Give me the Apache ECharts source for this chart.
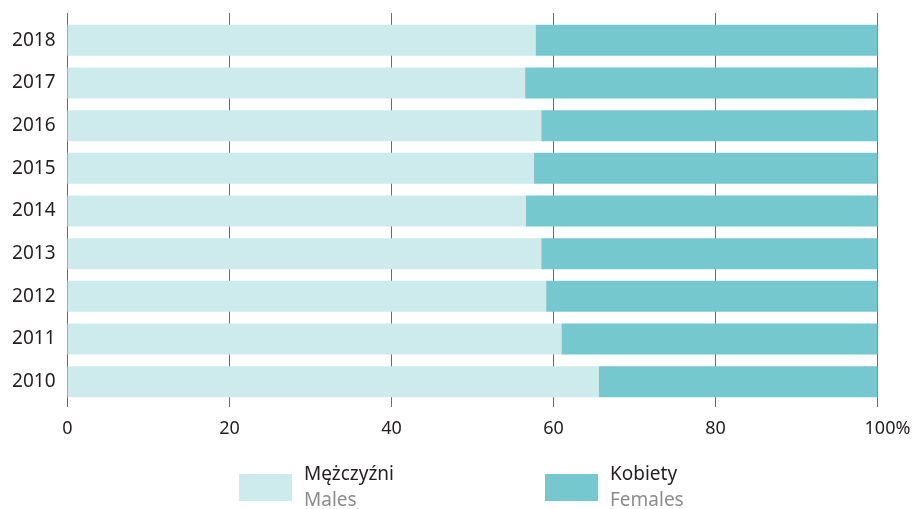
<!DOCTYPE html>
<html>
<head>
<meta charset="utf-8">
<script src="https://cdn.jsdelivr.net/npm/echarts@6/dist/echarts.min.js"></script>
<style>
  html, body { margin: 0; padding: 0; background: #fff; }
  #chart { width: 914px; height: 509px; }
</style>
</head>
<body>
<div id="chart"></div>
<script>
  // 数据（从下到上）
  const years = ['2010', '2011', '2012', '2013', '2014', '2015', '2016', '2017', '2018']
  const males = [65.6, 61.0, 59.1, 58.5, 56.6, 57.6, 58.5, 56.5, 57.8]
  const females = males.map(v => +(100 - v).toFixed(1))
  const xTicks = [0, 20, 40, 60, 80, 100]

  const FONT = '"Noto Sans", sans-serif'
  const LIGHT = '#cdebec'
  const DARK = '#74c8ce'

  const chart = echarts.init(document.getElementById('chart'))

  const legendItem = (name, en, left) => ({
    data: [name],
    left: left,
    top: 465,
    padding: 0,
    itemWidth: 53,
    itemHeight: 27,
    icon: 'rect',
    selectedMode: false,
    formatter: n => '{a|' + n + '}\n{b|' + en + '}',
    textStyle: {
      fontFamily: FONT,
      fontSize: 19,
      rich: {
        a: { fontSize: 19, color: '#231f20', lineHeight: 26, fontFamily: FONT, padding: [0, 0, 0, 7] },
        b: { fontSize: 19, color: '#8c8c8c', lineHeight: 26, fontFamily: FONT, padding: [0, 0, 0, 7] }
      }
    }
  })

  chart.setOption({
    animation: false,
    legend: [
      legendItem('Mężczyźni', 'Males', 239),
      legendItem('Kobiety', 'Females', 545)
    ],
    grid: [
      // 网格线用
      { left: 67.5, right: 36.5, top: 13, bottom: 102 },
      // 柱子用
      { left: 67.5, right: 36.5, top: 19, bottom: 106 }
    ],
    xAxis: [
      {
        gridIndex: 0,
        type: 'value',
        min: 0,
        max: 100,
        interval: 20,
        axisLine: { show: false },
        axisTick: { show: false },
        splitLine: { show: true, lineStyle: { color: '#6b6b6b', width: 1 } },
        axisLabel: {
          margin: 13,
          fontSize: 18,
          color: '#231f20',
          fontFamily: FONT,
          formatter: v => (v === 100 ? '{p|100%}' : String(v)),
          rich: {
            p: { fontSize: 18, color: '#231f20', fontFamily: FONT, padding: [0, 0, 0, 20] }
          }
        }
      },
      {
        gridIndex: 1,
        type: 'value',
        min: 0,
        max: 100,
        show: false
      }
    ],
    yAxis: [
      {
        gridIndex: 0,
        type: 'category',
        data: years,
        show: false
      },
      {
        gridIndex: 1,
        type: 'category',
        data: years,
        axisLine: { show: false },
        axisTick: { show: false },
        axisLabel: {
          margin: 12,
          fontSize: 19,
          color: '#231f20',
          fontFamily: FONT
        }
      }
    ],
    series: [
      {
        name: 'Mężczyźni',
        type: 'bar',
        stack: 'all',
        xAxisIndex: 1,
        yAxisIndex: 1,
        barWidth: 31,
        itemStyle: { color: LIGHT },
        data: males
      },
      {
        name: 'Kobiety',
        type: 'bar',
        stack: 'all',
        xAxisIndex: 1,
        yAxisIndex: 1,
        barWidth: 31,
        itemStyle: { color: DARK },
        data: females
      }
    ]
  })
</script>
</body>
</html>
